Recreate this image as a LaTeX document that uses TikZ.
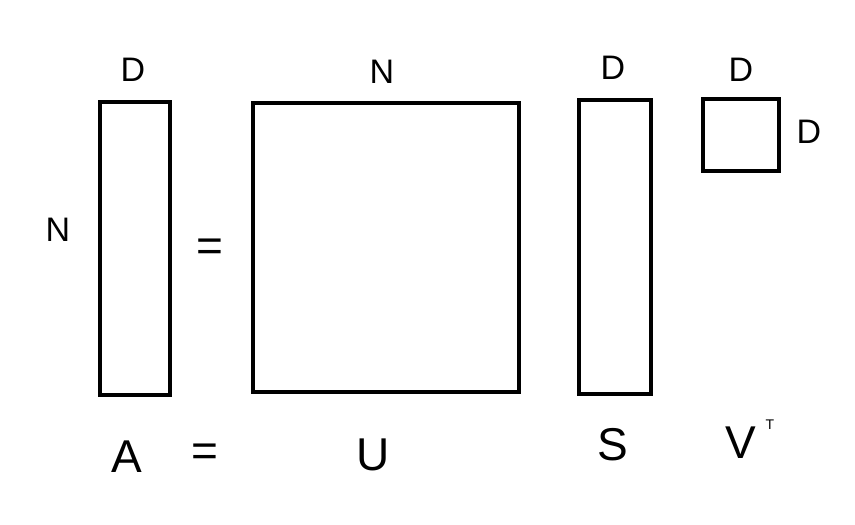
\documentclass[tikz,border=0pt]{standalone}
\usepackage{fontspec}
\setmainfont{Liberation Sans}
\begin{document}
\begin{tikzpicture}[x=1pt,y=-1pt,
  mat/.style={draw=black,line width=3.3pt},
  lbl/.style={inner sep=0pt,font=\fontsize{34}{34}\selectfont},
  big/.style={inner sep=0pt,font=\fontsize{46}{46}\selectfont}]
\useasboundingbox (0,0) rectangle (855,525);
\draw[mat] (100,102) rectangle (170,395);
\draw[mat] (253,103) rectangle (519,392);
\draw[mat] (579,100) rectangle (651,394);
\draw[mat] (703,99) rectangle (779,171);
\node[lbl] (dA) at (133,70) {D};
\node[lbl] (nA) at (58,230) {N};
\node[big] (eq1) at (210,250) {=};
\node[lbl] (nU) at (382,72) {N};
\node[lbl] (dS) at (613,68) {D};
\node[lbl] (dV) at (741,70) {D};
\node[lbl] (dV2) at (809,132) {D};
\node[big] (A) at (127,457) {A};
\node[big] (eq2) at (205,455) {=};
\node[big] (U) at (373,455) {U};
\node[big] (S) at (613,445) {S};
\node[big] (V) at (741,443) {V};
\node[inner sep=0pt,font=\fontsize{14}{14}\selectfont] (T) at (770,425) {T};
\end{tikzpicture}
\end{document}
